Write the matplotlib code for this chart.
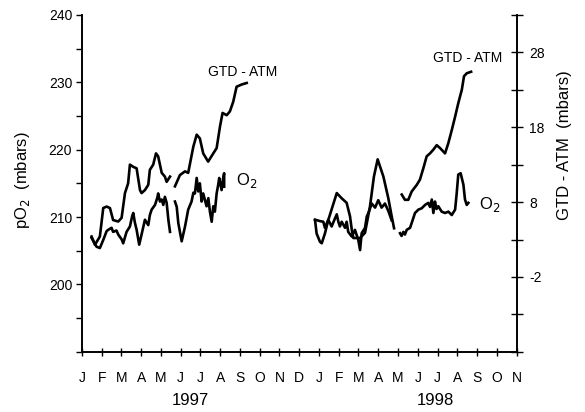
import matplotlib.pyplot as plt
import numpy as np

plt.rcParams['font.family'] = ['Liberation Sans', 'DejaVu Sans']

# months counted from Jan 1997 (0) to Nov 1998 (22)
month_labels = ['J', 'F', 'M', 'A', 'M', 'J', 'J', 'A', 'S', 'O', 'N', 'D',
                'J', 'F', 'M', 'A', 'M', 'J', 'J', 'A', 'S', 'O', 'N']

# GTD - ATM (right axis, mbars), four pieces
gtd_97a_t = [0.49, 0.66, 0.91, 1.08, 1.25, 1.42, 1.58, 1.84, 2.01, 2.18, 2.34, 2.43, 2.60, 2.77,
             2.94, 3.02, 3.19, 3.36, 3.44, 3.61, 3.75, 3.86, 4.04, 4.20, 4.29, 4.46]
gtd_97a = [3.4, 2.3, 3.4, 7.2, 7.4, 7.2, 5.6, 5.4, 5.9, 9.2, 10.5, 13.0, 12.7, 12.5,
           9.6, 9.2, 9.6, 10.3, 12.3, 13.0, 14.5, 14.1, 11.9, 11.4, 10.7, 11.4]
gtd_97b_t = [4.71, 4.96, 5.22, 5.38, 5.64, 5.81, 5.97, 6.14, 6.39, 6.65, 6.82, 6.99, 7.12,
             7.33, 7.49, 7.66, 7.83, 8.09, 8.34]
gtd_97b = [10.1, 11.6, 12.1, 11.9, 15.4, 17.0, 16.5, 14.5, 13.4, 14.5, 15.2, 18.1, 19.9,
           19.6, 20.1, 21.4, 23.4, 23.7, 23.9]
gtd_98a_t = [11.80, 11.88, 12.05, 12.14, 12.30, 12.47, 12.90, 13.15, 13.40, 13.57, 13.66, 13.74,
             14.08, 14.33, 14.58, 14.78, 14.97, 15.26, 15.51, 15.68, 15.80]
gtd_98a = [5.6, 3.8, 2.7, 2.5, 3.8, 5.6, 9.2, 8.5, 7.9, 6.1, 4.3, 3.2,
           3.2, 3.9, 7.4, 11.4, 13.7, 11.4, 8.5, 6.1, 4.5]
gtd_98b_t = [16.19, 16.35, 16.52, 16.69, 16.95, 17.11, 17.28, 17.45, 17.62, 17.79, 17.96,
             18.13, 18.38, 18.55, 18.72, 18.89, 19.05, 19.23, 19.34, 19.48, 19.70]
gtd_98b = [9.0, 8.3, 8.3, 9.4, 10.3, 11.0, 12.5, 14.1, 14.5, 15.0, 15.6,
           15.2, 14.5, 15.9, 17.6, 19.4, 21.2, 23.0, 24.8, 25.2, 25.4]

# pO2 (left axis, mbars), four pieces
o2_97a_t = [0.49, 0.74, 0.91, 1.08, 1.25, 1.33, 1.50, 1.58, 1.75, 1.84, 2.01, 2.09, 2.26, 2.43,
            2.55, 2.60, 2.68, 2.77, 2.90, 3.02, 3.19, 3.36, 3.44, 3.53, 3.70, 3.82, 3.86, 3.95,
            4.04, 4.12, 4.20, 4.29, 4.38, 4.46]
o2_97a = [206.9, 205.6, 205.4, 206.6, 207.9, 208.1, 208.4, 207.8, 208.0, 207.4, 206.7, 206.1,
          207.8, 208.6, 210.2, 210.6, 209.2, 208.1, 205.9, 207.4, 209.6, 208.8, 210.3, 211.1,
          211.8, 212.9, 213.5, 212.3, 212.6, 211.8, 213.0, 212.1, 209.5, 207.8]
o2_97b_t = [4.71, 4.80, 4.88, 5.05, 5.22, 5.38, 5.55, 5.64, 5.72, 5.81, 5.89, 5.97, 6.06, 6.14,
            6.31, 6.40, 6.48, 6.57, 6.65, 6.73, 6.82, 6.90, 6.95, 7.07, 7.14, 7.20, 7.20]
o2_97b = [212.3, 211.5, 209.1, 206.4, 208.6, 211.1, 212.3, 213.6, 213.5, 215.8, 213.8, 215.0,
          212.3, 213.5, 211.6, 212.8, 210.8, 209.3, 211.6, 210.8, 213.5, 214.8, 215.8, 214.0,
          215.6, 216.5, 214.5]
o2_98a_t = [11.80, 12.05, 12.22, 12.30, 12.47, 12.64, 12.81, 12.90, 12.98, 13.06, 13.15, 13.32,
            13.40, 13.48, 13.66, 13.82, 13.99, 14.08, 14.16, 14.33, 14.42, 14.50, 14.67, 14.84,
            15.00, 15.17, 15.34, 15.51, 15.68]
o2_98a = [209.6, 209.4, 209.3, 208.4, 209.6, 208.6, 209.8, 210.4, 209.3, 208.6, 209.3, 208.4,
          209.3, 207.8, 207.1, 208.1, 206.6, 205.1, 207.6, 208.4, 210.1, 210.6, 212.0, 211.4,
          212.5, 211.4, 212.0, 210.9, 209.5]
o2_98b_t = [16.10, 16.18, 16.27, 16.35, 16.44, 16.61, 16.69, 16.86, 17.03, 17.20, 17.37, 17.53,
            17.62, 17.71, 17.79, 17.87, 17.95, 18.04, 18.21, 18.38, 18.55, 18.72, 18.89,
            18.97, 19.05, 19.17, 19.31, 19.39, 19.48, 19.56]
o2_98b = [207.6, 207.2, 207.8, 207.4, 208.1, 208.4, 209.1, 210.6, 211.1, 211.3, 211.8, 212.1,
          211.5, 212.6, 210.6, 212.3, 211.2, 211.6, 210.8, 210.6, 210.8, 210.3, 211.1,
          213.5, 216.3, 216.5, 214.8, 212.6, 211.8, 212.1]

fig = plt.figure(figsize=(5.85, 4.12), dpi=100)
ax = fig.add_axes([0.140, 0.146, 0.743, 0.818])
ax2 = ax.twinx()

lw = 1.9
for t, v in [(o2_97a_t, o2_97a), (o2_97b_t, o2_97b), (o2_98a_t, o2_98a), (o2_98b_t, o2_98b)]:
    ax.plot(t, v, color='black', lw=lw, solid_joinstyle='round')
for t, v in [(gtd_97a_t, gtd_97a), (gtd_97b_t, gtd_97b), (gtd_98a_t, gtd_98a), (gtd_98b_t, gtd_98b)]:
    ax2.plot(t, v, color='black', lw=lw, solid_joinstyle='round')

### axes limits and ticks
ax.set_xlim(0, 22)
ax.set_ylim(190, 240)
ax2.set_ylim(-12, 33)

ax.set_xticks(np.arange(23))
ax.set_xticklabels(month_labels)
left_ticks = np.arange(190, 241, 5)
ax.set_yticks(left_ticks)
ax.set_yticklabels([str(v) if (v % 10 == 0 and v > 190) else '' for v in left_ticks])
right_ticks = np.arange(-12, 34, 5)
ax2.set_yticks(right_ticks)
ax2.set_yticklabels([str(v) if v in (-2, 8, 18, 28) else '' for v in right_ticks])

ax.tick_params(axis='y', direction='out', length=4, width=1, labelsize=10, pad=3)
ax.tick_params(axis='x', direction='inout', length=6, width=1, labelsize=10, pad=11)
ax2.tick_params(axis='y', direction='inout', length=8, width=1, labelsize=10, pad=5)

for a in (ax, ax2):
    a.spines['top'].set_visible(False)
    for s in a.spines.values():
        s.set_linewidth(1.2)

### labels
ax.set_ylabel('pO$_2$  (mbars)', fontsize=12)
ax.yaxis.set_label_coords(-0.115, 0.51)
ax2.set_ylabel('GTD - ATM  (mbars)', fontsize=12)
ax2.yaxis.set_label_coords(1.094, 0.614)

ax.text(5.5, -0.145, '1997', transform=ax.get_xaxis_transform(), ha='center', va='center', fontsize=12)
ax.text(17.9, -0.145, '1998', transform=ax.get_xaxis_transform(), ha='center', va='center', fontsize=12)

ax2.text(6.4, 25.4, 'GTD - ATM', ha='left', va='center', fontsize=10)
ax2.text(17.77, 27.3, 'GTD - ATM', ha='left', va='center', fontsize=10)
ax.text(7.8, 215.4, 'O$_2$', ha='left', va='center', fontsize=12)
ax.text(20.1, 211.9, 'O$_2$', ha='left', va='center', fontsize=12)

plt.savefig('out.png', dpi=100)
